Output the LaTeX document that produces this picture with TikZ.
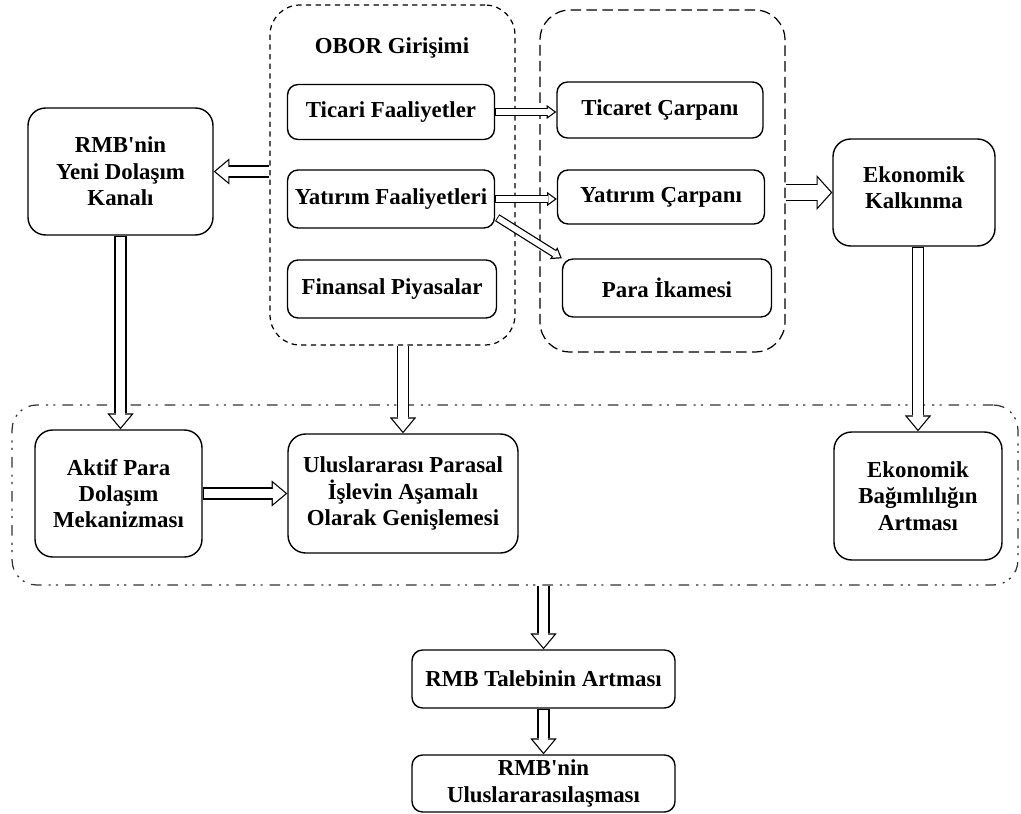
\documentclass[tikz,border=0pt]{standalone}
\usepackage{fontspec}
\setmainfont{Liberation Serif}
\usetikzlibrary{arrows.meta}

\tikzset{
  box/.style={draw, thick, rounded corners=6pt, align=center,
    font=\bfseries\fontsize{13}{15}\selectfont, inner sep=2pt},
  bigbox/.style={box, rounded corners=10pt},
  oborfr/.style={draw, line width=0.7pt, rounded corners=17pt, dash pattern=on 3pt off 2.5pt},
  carpfr/.style={draw, line width=0.7pt, rounded corners=17pt, dash pattern=on 6pt off 3pt},
  anafr/.style={draw=black!80, line width=0.7pt, rounded corners=14pt,
    dash pattern=on 6pt off 4pt on 1.2pt off 3pt on 1.2pt off 4pt},
  % hollow arrows: black body, white inside
  okk/.style={white, line width=3.2pt, shorten >=1.19pt, shorten <=0.5pt,
    -{Triangle[length=3.6pt, width=5.25pt, line width=0pt]},
    preaction={draw=black, line width=4.6pt, shorten >=0pt, shorten <=0pt,
      -{Triangle[length=5.5pt, width=8pt, line width=0pt]}}},
  ok/.style={white, line width=5.6pt, shorten >=1.09pt, shorten <=0.5pt,
    -{Triangle[length=7.2pt, width=12pt, line width=0pt]},
    preaction={draw=black, line width=7pt, shorten >=0pt, shorten <=0pt,
      -{Triangle[length=9pt, width=15pt, line width=0pt]}}},
  okb/.style={white, line width=8.6pt, shorten >=0.94pt, shorten <=0.5pt,
    -{Triangle[length=7.36pt, width=16.35pt, line width=0pt]},
    preaction={draw=black, line width=10pt, shorten >=0pt, shorten <=0pt,
      -{Triangle[length=9pt, width=20pt, line width=0pt]}}}
}

\begin{document}
\begin{tikzpicture}[x=0.02cm, y=-0.02cm]
  \useasboundingbox (0,0) rectangle (1021,814);

  % frames
  \node[oborfr, minimum width=4.9cm, minimum height=6.8cm] (obor) at (392.5,175) {};
  \node[carpfr, minimum width=4.9cm, minimum height=6.84cm] (carp) at (662.5,181) {};
  \node[anafr, minimum width=20.12cm, minimum height=3.6cm] (ana) at (515,495) {};
  \node[font=\bfseries\fontsize{13}{15}\selectfont] (oborlbl) at (392,48) {OBOR Girişimi};

  % OBOR
  \node[box, minimum width=4.14cm, minimum height=1.1cm] (ticari) at (391,112) {Ticari Faaliyetler};
  \node[box, minimum width=4.14cm, minimum height=1.16cm] (yatf) at (391,199) {Yatırım Faaliyetleri};
  \node[box, minimum width=4.18cm, minimum height=1.16cm] (finans) at (392,289) {Finansal Piyasalar};

  % carpanlar
  \node[box, minimum width=4.12cm, minimum height=1.12cm] (ticaret) at (660,110) {Ticaret Çarpanı};
  \node[box, minimum width=4.14cm, minimum height=1.08cm] (yatc) at (661,197) {Yatırım Çarpanı};
  \node[box, minimum width=4.18cm, minimum height=1.16cm] (para) at (667,288) {Para İkamesi};

  \node[bigbox, minimum width=3.7cm, minimum height=2.54cm] (rmb) at (120.5,171.5) {RMB\textquotesingle nin\\Yeni Dolaşım\\Kanalı};
  \node[bigbox, minimum width=3.24cm, minimum height=2.14cm, text depth=0.2cm] (ekon) at (914,192.5) {Ekonomik\\Kalkınma};

  % alt kutu
  \node[bigbox, minimum width=3.34cm, minimum height=2.54cm] (aktif) at (118.5,493.5) {Aktif Para\\Dolaşım\\Mekanizması};
  \node[bigbox, minimum width=4.6cm, minimum height=2.38cm] (ulus) at (403,493.5) {Uluslararası Parasal\\İşlevin Aşamalı\\Olarak Genişlemesi};
  \node[bigbox, minimum width=3.36cm, minimum height=2.56cm] (bag) at (918,496) {Ekonomik\\Bağımlılığın\\Artması};

  \node[box, minimum width=5.26cm, minimum height=1.16cm] (talep) at (543.5,679) {RMB Talebinin Artması};
  \node[box, minimum width=5.26cm, minimum height=1.14cm] (ulusl) at (543.5,783.5) {RMB\textquotesingle nin\\Uluslararasılaşması};

  % oklar
  \draw[ok] (obor.west |- rmb.east) -- (rmb.east);
  \draw[okk] (ticari.east) -- (ticari.east -| ticaret.west);
  \draw[okk] (yatf.east) -- (yatf.east -| yatc.west);
  \draw[okk] ([xshift=0.04cm, yshift=0.22cm]yatf.south east) -- (para.north west);
  \draw[okb] (carp.east |- ekon.west) -- (ekon.west);
  \draw[ok] (rmb.south) -- (rmb.south |- aktif.north);
  \draw[ok] (obor.south -| ulus.north) -- (ulus.north);
  \draw[ok] (bag.north |- ekon.south) -- (bag.north);
  \draw[ok] (aktif.east) -- (ulus.west);
  \draw[ok] (ana.south -| talep.north) -- (talep.north);
  \draw[ok] (talep.south) -- (ulusl.north);
\end{tikzpicture}
\end{document}
